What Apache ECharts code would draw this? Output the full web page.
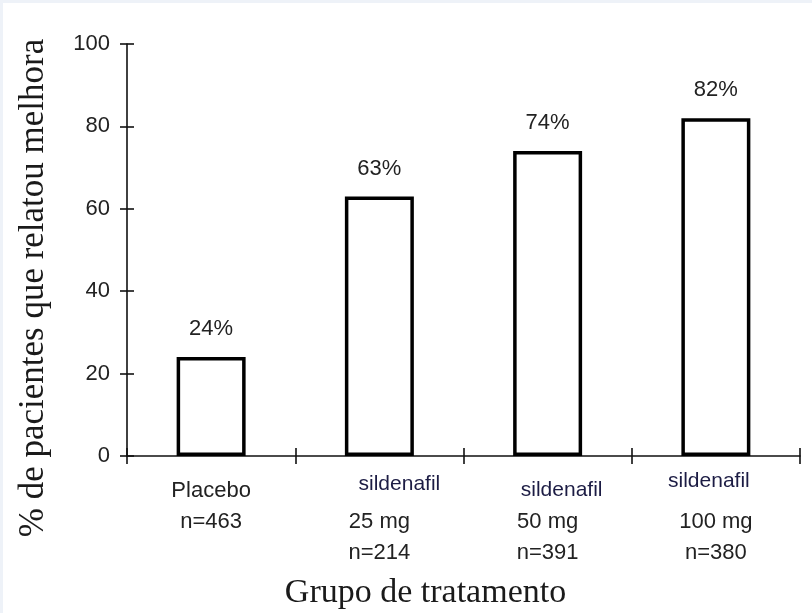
<!DOCTYPE html>
<html>
<head>
<meta charset="utf-8">
<script src="https://cdn.jsdelivr.net/npm/echarts@6/dist/echarts.min.js"></script>
<style>
html,body{margin:0;padding:0;background:#fff;}
#c{width:812px;height:613px;box-sizing:border-box;border-top:3px solid #eef2f8;border-left:3px solid #eef2f8;}
</style>
</head>
<body>
<div id="c"></div>
<script>
const groupNames = ['Placebo', 'sildenafil', 'sildenafil', 'sildenafil'];
const doses = ['', '25 mg', '50 mg', '100 mg'];
const sampleSizes = ['n=463', 'n=214', 'n=391', 'n=380'];
const percentImproved = [24, 63, 74, 82];
const yTicks = [0, 20, 40, 60, 80, 100];

const categories = groupNames.map((g, i) => (g + ' ' + doses[i]).trim());

const chart = echarts.init(document.getElementById('c'), null, {renderer: 'canvas'});
const sans = '"Liberation Sans", Arial, sans-serif';
const serif = '"Liberation Serif", "Times New Roman", serif';
const txt = '#222';
const drug = '#1c1c44';

function labelFor(value, idx) {
  if (doses[idx] === '') {
    return '{p|' + groupNames[idx] + '}\n{n|' + sampleSizes[idx] + '}';
  }
  return '{s' + idx + '|' + groupNames[idx] + '}\n{n|' + doses[idx] + '}\n{n|' + sampleSizes[idx] + '}';
}

const option = {
  animation: false,
  backgroundColor: '#fff',
  grid: {left: 124, right: 12, top: 41, bottom: 157, containLabel: false, outerBoundsMode: 'none'},
  xAxis: [{
    type: 'category',
    data: categories,
    position: 'bottom',
    axisLine: {lineStyle: {color: '#111', width: 1.6}},
    axisTick: {show: true, inside: false, length: 8, lineStyle: {color: '#111', width: 1.6}},
    axisLabel: {
      margin: 16,
      interval: 0,
      formatter: labelFor,
      rich: {
        p: {fontFamily: sans, fontSize: 22, color: txt, lineHeight: 34.5, padding: [4, 0, 0, 0]},
        s1: {fontFamily: sans, fontSize: 21, color: drug, lineHeight: 34.5, padding: [0, 0, 10.5, 40]},
        s2: {fontFamily: sans, fontSize: 21, color: drug, lineHeight: 34.5, padding: [1.5, 0, 0, 28]},
        s3: {fontFamily: sans, fontSize: 21, color: drug, lineHeight: 34.5, padding: [0, 14, 16.5, 0]},
        n: {fontFamily: sans, fontSize: 22, color: txt, lineHeight: 31}
      }
    },
    name: 'Grupo de tratamento',
    nameLocation: 'middle',
    nameGap: 120,
    nameTextStyle: {fontFamily: serif, fontSize: 34, color: '#1a1a1a', padding: [0, 76, 0, 0]}
  }, {
    type: 'category',
    data: categories,
    position: 'bottom',
    axisLine: {show: false},
    axisTick: {show: true, inside: true, length: 8, lineStyle: {color: '#111', width: 1.6}},
    axisLabel: {show: false}
  }],
  yAxis: [{
    type: 'value',
    min: yTicks[0],
    max: yTicks[yTicks.length - 1],
    interval: yTicks[1] - yTicks[0],
    splitLine: {show: false},
    axisLine: {show: true, lineStyle: {color: '#111', width: 1.6}},
    axisTick: {show: true, inside: false, length: 7, lineStyle: {color: '#111', width: 1.6}},
    axisLabel: {margin: 17, fontFamily: sans, fontSize: 22, color: txt},
    name: '% de pacientes que relatou melhora',
    nameLocation: 'middle',
    nameGap: 76,
    nameRotate: 90,
    nameTextStyle: {fontFamily: serif, fontSize: 35, color: '#1a1a1a', padding: [0, 76, 0, 0]}
  }, {
    type: 'value',
    position: 'left',
    min: yTicks[0],
    max: yTicks[yTicks.length - 1],
    interval: yTicks[1] - yTicks[0],
    splitLine: {show: false},
    axisLine: {show: false},
    axisTick: {show: true, inside: true, length: 7, lineStyle: {color: '#111', width: 1.6}},
    axisLabel: {show: false}
  }],
  series: [{
    type: 'bar',
    xAxisIndex: 0,
    yAxisIndex: 0,
    data: percentImproved,
    barWidth: '41%',
    itemStyle: {color: '#fff', borderColor: '#000', borderWidth: 3.5},
    label: {
      show: true,
      position: 'top',
      distance: 17,
      formatter: p => p.value + '%',
      fontFamily: sans,
      fontSize: 22,
      color: txt
    }
  }]
};
chart.setOption(option);
</script>
</body>
</html>
